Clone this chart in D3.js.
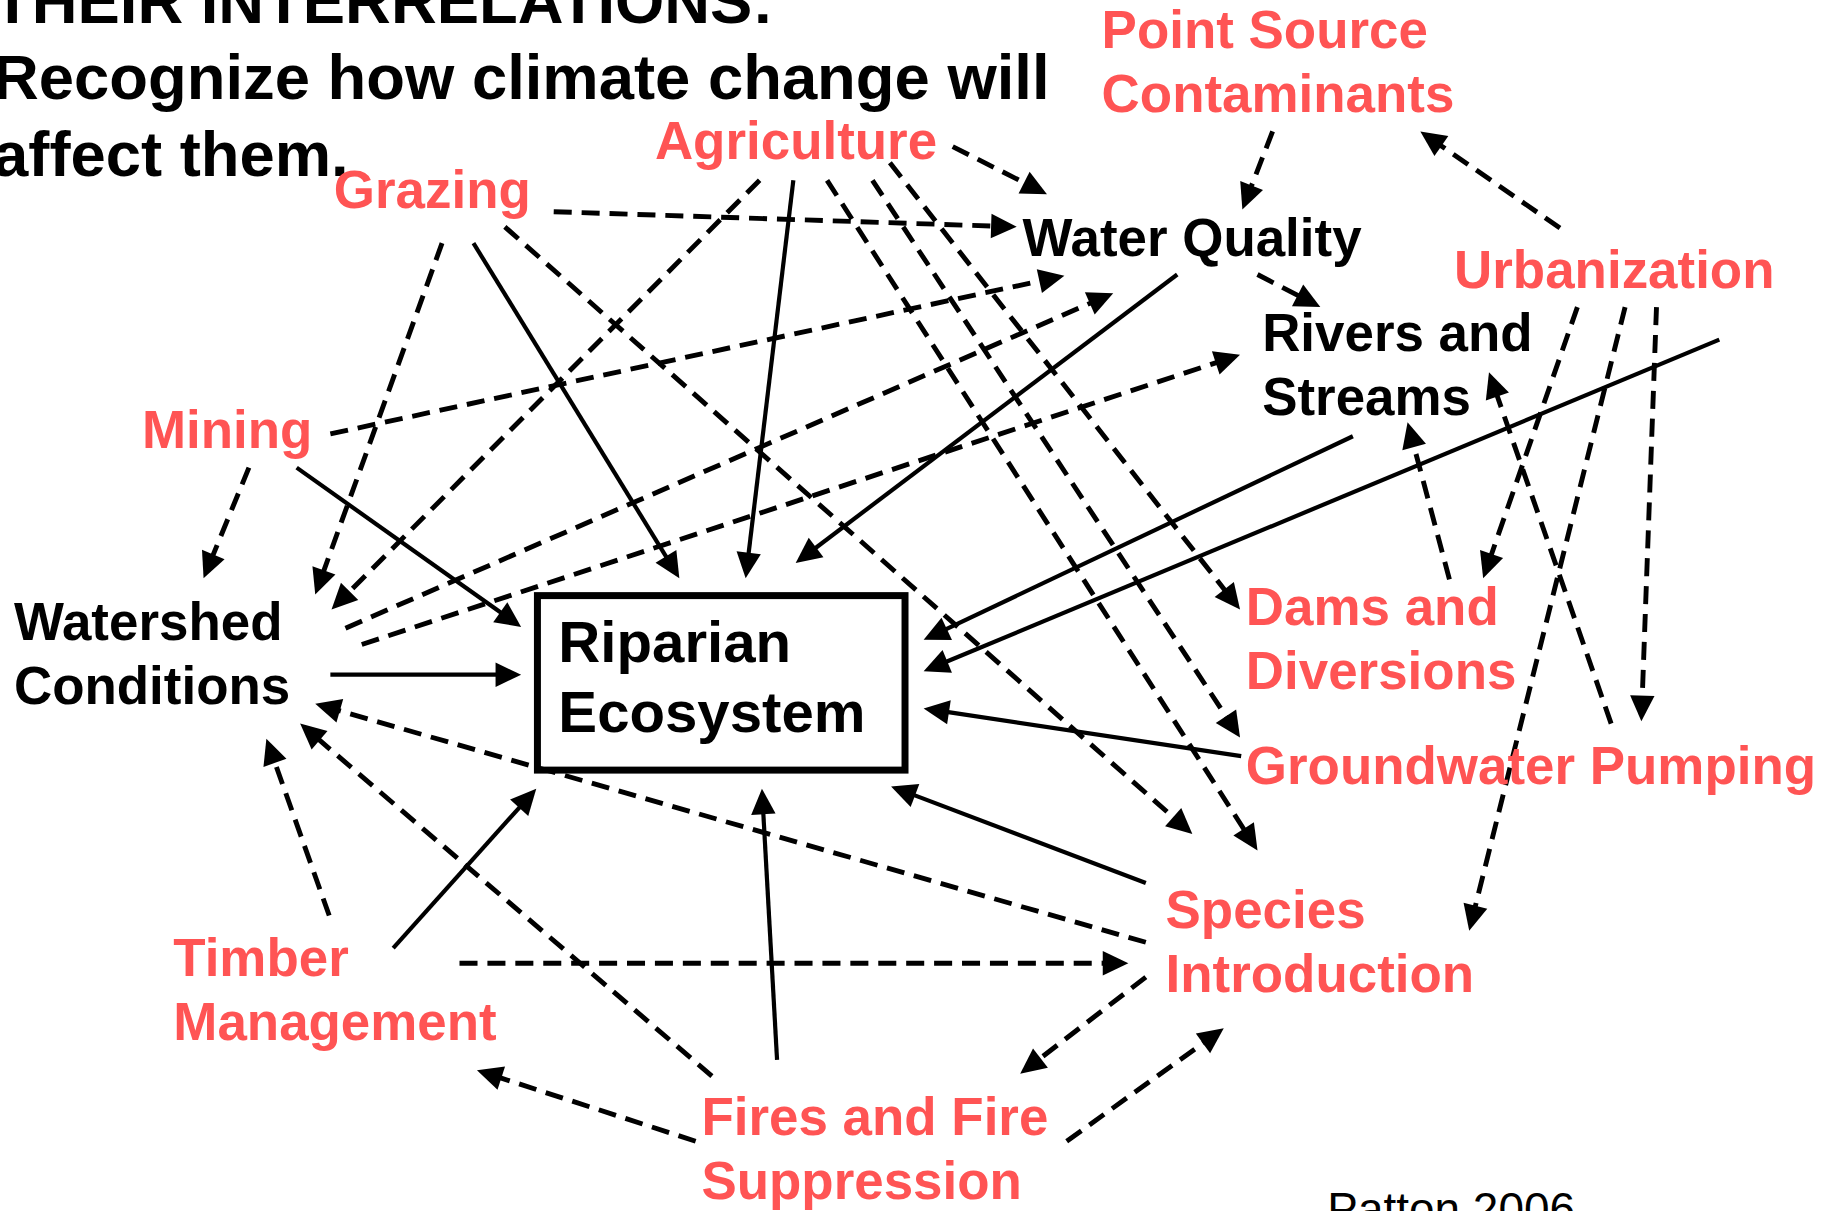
<!DOCTYPE html>
<html>
<head>
<meta charset="utf-8">
<script src="https://cdn.jsdelivr.net/npm/d3@7"></script>
<style>
  html, body { margin: 0; padding: 0; background: #fff; overflow: hidden; }
  svg text { font-family: "Liberation Sans", Arial, sans-serif; }
</style>
</head>
<body>
<div class="chart"></div>
<script>
// heading lines (top left, partly cut off)
const titleLines = ['THEIR INTERRELATIONS:', 'Recognize how climate change will', 'affect them.'];

// nodes of the diagram: label lines and whether it is a driver (red) or a resource (black)
const nodes = [
    { id: 'point', lines: ['Point Source', 'Contaminants'], kind: 'driver' },
    { id: 'agri', lines: ['Agriculture'], kind: 'driver' },
    { id: 'graz', lines: ['Grazing'], kind: 'driver' },
    { id: 'wq', lines: ['Water Quality'], kind: 'resource' },
    { id: 'urb', lines: ['Urbanization'], kind: 'driver' },
    { id: 'riv', lines: ['Rivers and', 'Streams'], kind: 'resource' },
    { id: 'min', lines: ['Mining'], kind: 'driver' },
    { id: 'ws', lines: ['Watershed', 'Conditions'], kind: 'resource' },
    { id: 'rip', lines: ['Riparian', 'Ecosystem'], kind: 'core' },
    { id: 'dams', lines: ['Dams and', 'Diversions'], kind: 'driver' },
    { id: 'gw', lines: ['Groundwater Pumping'], kind: 'driver' },
    { id: 'spec', lines: ['Species', 'Introduction'], kind: 'driver' },
    { id: 'timb', lines: ['Timber', 'Management'], kind: 'driver' },
    { id: 'fire', lines: ['Fires and Fire', 'Suppression'], kind: 'driver' }
];

// where each label sits (left edge, first baseline), in slide units
const nodePos = {
    point: [947, 41], agri: [563, 137], graz: [287, 179], wq: [879, 220],
    urb: [1250, 248], riv: [1085, 302], min: [122, 385], ws: [12, 550],
    rip: [480, 569], dams: [1071, 537], gw: [1071, 674], spec: [1002, 798],
    timb: [149, 839], fire: [603, 976]
};

// the box round the riparian ecosystem
const boxCorners = [462, 512, 778, 662];

// influences: from, to, solid or dashed
const links = [
    ['agri', 'wq', 'dash'], ['agri', 'ws', 'dash'], ['agri', 'rip', 'solid'],
    ['agri', 'spec', 'dash'], ['agri', 'gw', 'dash'], ['agri', 'dams', 'dash'],
    ['graz', 'wq', 'dash'], ['graz', 'ws', 'dash'], ['graz', 'rip', 'solid'], ['graz', 'spec', 'dash'],
    ['min', 'wq', 'dash'], ['min', 'ws', 'dash'], ['min', 'rip', 'solid'],
    ['ws', 'wq', 'dash'], ['ws', 'riv', 'dash'], ['ws', 'rip', 'solid'],
    ['wq', 'rip', 'solid'], ['wq', 'riv', 'dash'], ['point', 'wq', 'dash'],
    ['urb', 'point', 'dash'], ['urb', 'dams', 'dash'], ['urb', 'spec', 'dash'], ['urb', 'gw', 'dash'],
    ['urb', 'rip', 'solid'], ['riv', 'rip', 'solid'], ['dams', 'riv', 'dash'], ['gw', 'riv', 'dash'],
    ['gw', 'rip', 'solid'], ['spec', 'rip', 'solid'], ['spec', 'ws', 'dash'], ['spec', 'fire', 'dash'],
    ['fire', 'spec', 'dash'], ['fire', 'timb', 'dash'], ['fire', 'ws', 'dash'], ['fire', 'rip', 'solid'],
    ['timb', 'spec', 'dash'], ['timb', 'rip', 'solid'], ['timb', 'ws', 'dash']
];

// start and arrow tip of every link, same order as links
const linkEnds = [
    [819, 126, 900, 167], [653, 155, 285, 524], [682, 155, 641, 497],
    [711, 155, 1081, 731], [750, 155, 1066, 634], [765, 140, 1066, 524],
    [476, 182, 874, 195], [380, 209, 271, 511], [407, 209, 584, 497], [434, 195, 1025, 717],
    [284, 373, 915, 237], [214, 402, 175, 497], [255, 402, 448, 539],
    [297, 540, 957, 252], [311, 554, 1066, 305], [284, 580, 448, 580],
    [1012, 236, 684, 484], [1081, 236, 1135, 264], [1094, 113, 1068, 180],
    [1341, 196, 1221, 113], [1356, 264, 1275, 497], [1397, 264, 1263, 800], [1424, 264, 1411, 620],
    [1478, 292, 794, 577], [1163, 375, 794, 550], [1246, 498, 1210, 363], [1385, 622, 1280, 320],
    [1067, 650, 794, 609], [985, 759, 766, 676], [985, 810, 271, 605], [985, 840, 877, 923],
    [917, 981, 1052, 884], [598, 981, 410, 920], [612, 925, 258, 622], [668, 911, 655, 678],
    [395, 828, 970, 828], [338, 815, 461, 678], [283, 787, 229, 635]
];

const credit = 'Patton 2006';

const fullWidth = 1824, fullHeight = 1211;
const colours = { driver: '#ff5454', resource: '#000', core: '#000' };

// slide units -> pixels
const xScale = d3.scaleLinear().domain([0, 1568]).range([0, fullWidth]);
const yScale = d3.scaleLinear().domain([0, 1041]).range([0, fullHeight]);
const k = fullWidth / 1568;

const svg = d3.select('.chart').append('svg')
    .attr('width', fullWidth)
    .attr('height', fullHeight);

svg.append('rect').attr('width', fullWidth).attr('height', fullHeight).attr('fill', '#fff');

// heading
svg.append('g').selectAll('text')
    .data(titleLines)
    .enter().append('text')
    .attr('x', xScale(-6))
    .attr('y', (d, i) => yScale(20 + i * 65.5))
    .style('font-size', 54.5 * k + 'px')
    .style('font-weight', 'bold')
    .attr('fill', '#000')
    .text(d => d);

// links
const arrowLen = 22, arrowHalf = 10.5;
const linkData = links.map((l, i) => ({ from: l[0], to: l[1], type: l[2], pts: linkEnds[i] }));

const gLinks = svg.append('g');
linkData.forEach(d => {
    let [x1, y1, x2, y2] = d.pts;
    let dx = x2 - x1, dy = y2 - y1, len = Math.hypot(dx, dy);
    let ux = dx / len, uy = dy / len;
    let bx = x2 - ux * arrowLen, by = y2 - uy * arrowLen;
    gLinks.append('line')
        .attr('x1', xScale(x1)).attr('y1', yScale(y1))
        .attr('x2', xScale(bx + ux * 2)).attr('y2', yScale(by + uy * 2))
        .attr('stroke', '#000')
        .attr('stroke-width', (d.type === 'dash' ? 4.2 : 3.6) * k)
        .attr('stroke-dasharray', d.type === 'dash' ? `${15.5 * k},${8.5 * k}` : null);
    let px = -uy * arrowHalf, py = ux * arrowHalf;
    gLinks.append('path')
        .attr('d', d3.line()([
            [xScale(x2), yScale(y2)],
            [xScale(bx + px), yScale(by + py)],
            [xScale(bx - px), yScale(by - py)]
        ]) + 'Z')
        .attr('fill', '#000');
});

// box
svg.append('rect')
    .attr('x', xScale(boxCorners[0]))
    .attr('y', yScale(boxCorners[1]))
    .attr('width', xScale(boxCorners[2]) - xScale(boxCorners[0]))
    .attr('height', yScale(boxCorners[3]) - yScale(boxCorners[1]))
    .attr('fill', 'none')
    .attr('stroke', '#000')
    .attr('stroke-width', 6 * k);

// node labels
const gNodes = svg.append('g');
nodes.forEach(n => {
    let [nx, ny] = nodePos[n.id];
    let size = n.kind === 'core' ? 50 : 45.5;
    let step = n.kind === 'core' ? 60 : 55;
    let t = gNodes.append('text')
        .attr('x', xScale(nx))
        .attr('y', yScale(ny))
        .attr('fill', colours[n.kind])
        .style('font-size', size * k + 'px')
        .style('font-weight', 'bold');
    n.lines.forEach((line, i) => {
        t.append('tspan')
            .attr('x', xScale(nx))
            .attr('y', yScale(ny + i * step))
            .text(line);
    });
});

// source note, cut by the bottom edge
svg.append('text')
    .attr('x', xScale(1141))
    .attr('y', yScale(1053))
    .attr('fill', '#000')
    .style('font-size', 39.5 * k + 'px')
    .text(credit);
</script>
</body>
</html>
